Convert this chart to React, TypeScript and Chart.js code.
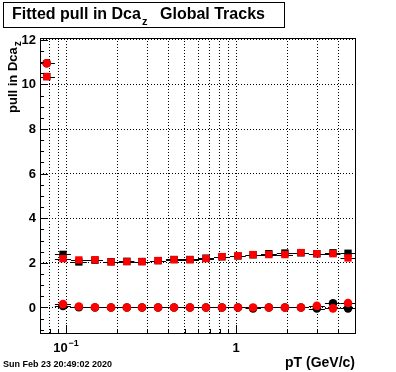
import React, { useEffect, useRef } from "react";
import { Chart, registerables } from "chart.js";

Chart.register(...registerables);

// ---- data ----
const pT = [0.077, 0.096, 0.119, 0.148, 0.184, 0.228, 0.28, 0.348, 0.432, 0.536, 0.666, 0.827, 1.027, 1.26, 1.56, 1.94, 2.41, 2.99, 3.72, 4.56];
const sigmaBlack = [10.35, 2.38, 2.04, 2.12, 2.05, 2.07, 2.06, 2.1, 2.15, 2.15, 2.21, 2.27, 2.31, 2.36, 2.41, 2.44, 2.45, 2.41, 2.45, 2.43];
const sigmaRed = [10.35, 2.19, 2.13, 2.14, 2.04, 2.05, 2.05, 2.1, 2.14, 2.14, 2.19, 2.28, 2.32, 2.37, 2.37, 2.37, 2.46, 2.41, 2.41, 2.22];
const meanBlack = [10.95, 0.07, 0.01, 0.0, 0.0, 0.0, 0.0, 0.0, 0.0, 0.0, 0.0, 0.0, 0.0, -0.04, 0.0, 0.0, 0.0, -0.05, 0.19, -0.04];
const meanRed = [10.95, 0.15, 0.04, 0.01, 0.0, 0.0, 0.0, 0.0, 0.0, 0.0, 0.0, 0.0, 0.0, 0.0, 0.0, 0.0, 0.0, 0.07, -0.04, 0.2];

const xGridTicks = [0.08, 0.09, 0.1, 0.2, 0.3, 0.4, 0.5, 0.6, 0.7, 0.8, 0.9, 1, 2, 3, 4];
const xMajorTicks = [0.1, 1];
const yMajorTicks = [0, 2, 4, 6, 8, 10, 12];
const yMinorTicks = [-1, -0.5, 0.5, 1, 1.5, 2.5, 3, 3.5, 4.5, 5, 5.5, 6.5, 7, 7.5, 8.5, 9, 9.5, 10.5, 11, 11.5];

const X_MIN = 0.0703;
const X_MAX = 5.08;
const Y_MIN = -1.19;
const Y_MAX = 12.08;

const titleMain = "Fitted pull in Dca";
const titleSub = "z";
const titleRest = "Global Tracks";
const yTitle = "pull in Dca";
const yTitleSub = "z";
const xTitle = "pT (GeV/c)";
const dateStamp = "Sun Feb 23 20:49:02 2020";

const FONT = '"Liberation Sans", Arial, Helvetica, sans-serif';

function binEdges(i: number): [number, number] {
  const c = pT[i];
  const prev = i > 0 ? pT[i - 1] : c * c / pT[i + 1];
  const next = i < pT.length - 1 ? pT[i + 1] : c * c / pT[i - 1];
  return [Math.sqrt(prev * c), Math.sqrt(c * next)];
}

const rootPlugin = {
  id: "rootStyle",
  beforeDatasetsDraw(chart: any) {
    const { ctx, chartArea, scales } = chart;
    const x = scales.x;
    const y = scales.y;
    ctx.save();
    ctx.strokeStyle = "#000";
    ctx.lineWidth = 1;
    const all = [sigmaBlack, meanBlack, sigmaRed, meanRed];
    for (const arr of all) {
      for (let i = 0; i < pT.length; i++) {
        const [lo, hi] = binEdges(i);
        const x0 = Math.max(chartArea.left, x.getPixelForValue(lo));
        const x1 = Math.min(chartArea.right, x.getPixelForValue(hi));
        const yp = Math.round(y.getPixelForValue(arr[i])) + 0.5;
        ctx.beginPath();
        ctx.moveTo(x0, yp);
        ctx.lineTo(x1, yp);
        ctx.stroke();
      }
    }
    ctx.restore();
  },
  afterDraw(chart: any) {
    const { ctx, chartArea, scales } = chart;
    const x = scales.x;
    const y = scales.y;
    const L = chartArea.left, R = chartArea.right, T = chartArea.top, B = chartArea.bottom;
    ctx.save();
    ctx.strokeStyle = "#000";
    ctx.fillStyle = "#000";
    ctx.lineWidth = 1;
    // frame
    ctx.strokeRect(L + 0.5, T + 0.5, R - L - 1, B - T - 1);
    // y ticks (inward)
    ctx.beginPath();
    for (const v of yMajorTicks) {
      const p = Math.round(y.getPixelForValue(v)) + 0.5;
      ctx.moveTo(L, p);
      ctx.lineTo(L + 8, p);
    }
    for (const v of yMinorTicks) {
      const p = Math.round(y.getPixelForValue(v)) + 0.5;
      ctx.moveTo(L, p);
      ctx.lineTo(L + 4, p);
    }
    // x ticks (inward)
    for (const v of xGridTicks) {
      const p = Math.round(x.getPixelForValue(v)) + 0.5;
      const len = xMajorTicks.includes(v) ? 9 : 5;
      ctx.moveTo(p, B);
      ctx.lineTo(p, B - len);
    }
    ctx.stroke();

    // y tick labels
    ctx.font = `bold 13px ${FONT}`;
    ctx.textAlign = "right";
    ctx.textBaseline = "middle";
    for (const v of yMajorTicks) {
      ctx.fillText(String(v), L - 4, y.getPixelForValue(v) + 0.5);
    }
    // x tick labels
    ctx.textBaseline = "alphabetic";
    ctx.textAlign = "left";
    for (const v of xMajorTicks) {
      const px = x.getPixelForValue(v);
      if (v === 1) {
        ctx.font = `bold 13px ${FONT}`;
        ctx.textAlign = "center";
        ctx.fillText("1", px, 352);
        ctx.textAlign = "left";
      } else {
        const exp = String(Math.round(Math.log10(v))).replace("-", "\u2212");
        ctx.font = `bold 13px ${FONT}`;
        const w1 = ctx.measureText("10").width;
        ctx.font = `bold 9px ${FONT}`;
        const w2 = ctx.measureText(exp).width;
        const start = px - (w1 + w2 + 1) / 2;
        ctx.font = `bold 13px ${FONT}`;
        ctx.fillText("10", start, 352);
        ctx.font = `bold 9px ${FONT}`;
        ctx.fillText(exp, start + w1 + 1, 346);
      }
    }
    // x title
    ctx.font = `bold 14px ${FONT}`;
    ctx.textAlign = "right";
    ctx.fillText(xTitle, R - 1, 367);
    // y title (rotated)
    ctx.save();
    ctx.translate(17, 113);
    ctx.rotate(-Math.PI / 2);
    ctx.textAlign = "left";
    ctx.font = `bold 13px ${FONT}`;
    ctx.fillText(yTitle, 0, 0);
    const yw = ctx.measureText(yTitle).width;
    ctx.font = `bold 10px ${FONT}`;
    ctx.fillText(yTitleSub, yw + 1, 4);
    ctx.restore();
    // title box
    ctx.fillStyle = "#fff";
    ctx.fillRect(3, 2, 282, 26);
    ctx.strokeRect(3.5, 2.5, 281, 25);
    ctx.fillStyle = "#000";
    ctx.textAlign = "left";
    ctx.font = `bold 16px ${FONT}`;
    ctx.fillText(titleMain, 12, 19);
    const tw = ctx.measureText(titleMain).width;
    ctx.font = `bold 11px ${FONT}`;
    ctx.fillText(titleSub, 12 + tw + 1, 25);
    ctx.font = `bold 16px ${FONT}`;
    ctx.fillText(titleRest, 160, 19);
    // date stamp
    ctx.font = `bold 9px ${FONT}`;
    ctx.fillText(dateStamp, 3, 367);
    ctx.restore();
  },
};

export default function App() {
  const ref = useRef<HTMLCanvasElement>(null);
  useEffect(() => {
    document.body.style.margin = "0";
    const canvas = ref.current!;
    const mk = (arr: number[]) => pT.map((v, i) => ({ x: v, y: arr[i] }));
    const chart = new Chart(canvas, {
      type: "scatter",
      data: {
        // Chart.js paints the first dataset last (on top): red first so it covers black
        datasets: [
          { data: mk(sigmaRed), pointStyle: "rect", pointRadius: 5.2, backgroundColor: "#ff0000", borderColor: "#ff0000", borderWidth: 0 },
          { data: mk(meanRed), pointStyle: "circle", pointRadius: 4.3, backgroundColor: "#ff0000", borderColor: "#ff0000", borderWidth: 0 },
          { data: mk(sigmaBlack), pointStyle: "rect", pointRadius: 5.2, backgroundColor: "#000", borderColor: "#000", borderWidth: 0 },
          { data: mk(meanBlack), pointStyle: "circle", pointRadius: 4.3, backgroundColor: "#000", borderColor: "#000", borderWidth: 0 },
        ],
      } as any,
      options: {
        animation: false,
        responsive: false,
        devicePixelRatio: 1,
        layout: { padding: { top: 38, right: 40, left: 0, bottom: 0 } },
        plugins: { legend: { display: false }, tooltip: { enabled: false }, title: { display: false } },
        scales: {
          x: {
            type: "logarithmic",
            min: X_MIN,
            max: X_MAX,
            afterBuildTicks: (s: any) => {
              s.ticks = xGridTicks.map((v) => ({ value: v }));
            },
            afterFit: (s: any) => {
              s.height = 38;
            },
            ticks: { display: false },
            grid: { color: "#000", lineWidth: 1, drawTicks: false },
            border: { display: false, dash: [1, 2] },
          },
          y: {
            type: "linear",
            min: Y_MIN,
            max: Y_MAX,
            afterBuildTicks: (s: any) => {
              s.ticks = yMajorTicks.map((v) => ({ value: v }));
            },
            afterFit: (s: any) => {
              s.width = 40;
            },
            ticks: { display: false },
            grid: { color: "#000", lineWidth: 1, drawTicks: false },
            border: { display: false, dash: [1, 2] },
          },
        },
      } as any,
      plugins: [rootPlugin],
    });
    return () => chart.destroy();
  }, []);
  return (
    <div style={{ width: 396, height: 372, background: "#fff" }}>
      <canvas ref={ref} width={396} height={372} style={{ display: "block" }} />
    </div>
  );
}
